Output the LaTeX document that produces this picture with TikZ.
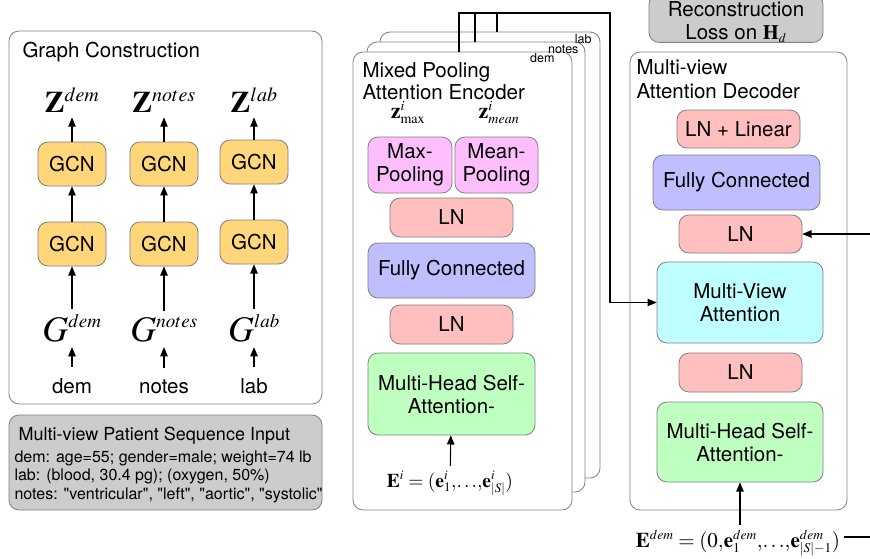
\documentclass[tikz,border=0pt]{standalone}
\usepackage{mathptmx}
\usepackage[no-math]{fontspec}
\setmainfont{TeX Gyre Heros}
\usepackage{tikz}
\usetikzlibrary{positioning}
\usetikzlibrary{shapes,arrows}
\DeclareMathSizes{30}{30}{20}{14}
\DeclareMathSizes{36}{36}{19}{14}
\DeclareMathSizes{22}{22}{14}{10}
\DeclareMathSizes{21}{21}{13.5}{10}
\DeclareMathSizes{19.5}{19.5}{13}{10}
\DeclareMathSizes{20.5}{20.5}{13}{10}
\definecolor{gcnfill}{RGB}{255,214,122}
\definecolor{lnfill}{RGB}{255,191,191}
\definecolor{fcfill}{RGB}{191,191,255}
\definecolor{poolfill}{RGB}{255,191,255}
\definecolor{attfill}{RGB}{191,255,191}
\definecolor{mvafill}{RGB}{191,255,255}
\definecolor{grayfill}{RGB}{204,204,204}
\definecolor{edge}{RGB}{128,128,128}
\newcommand{\txtbig}{\fontsize{20.5}{23}\selectfont}
\newcommand{\txtmid}{\fontsize{18}{21}\selectfont}
\newcommand{\txtsmall}{\fontsize{16}{18.5}\selectfont}
\newcommand{\txttiny}{\fontsize{12.5}{14}\selectfont}
\tikzset{%
  frame/.style    = {draw=edge, line width=0.8pt, rounded corners=10pt, fill=white,
    inner sep=0pt},
  box/.style      = {draw=edge, line width=0.8pt, rounded corners=10pt, inner sep=0pt,
    align=center, font=\txtbig},
  gcn/.style      = {box, fill=gcnfill, minimum width=68pt, minimum height=44pt}, % GCN layer
  ln/.style       = {box, fill=lnfill, minimum width=123pt, minimum height=38pt},
  fc/.style       = {box, fill=fcfill, minimum width=167pt, minimum height=55pt},
  pool/.style     = {box, fill=poolfill, minimum width=84pt, minimum height=56pt},
  mhsa/.style     = {box, fill=attfill, minimum width=167pt, minimum height=81pt},
  heading/.style  = {inner sep=0pt, align=left, font=\txtbig},
  word/.style     = {inner sep=5pt, font=\txtbig},
  mathlbl/.style  = {inner sep=5pt}
}

\begin{document}
\begin{tikzpicture}[x=1pt, y=-1pt, line width=1.1pt, >=triangle 45]
  \useasboundingbox (0,0) rectangle (870,558);
  \clip (0,0) rectangle (870,558);

  % graph construction
  \draw node at (165.5,217.5) [frame, minimum width=313pt, minimum height=373pt] (gc) {};
  \draw node at (22,57) [heading, anchor=base west] (gctitle) {Graph Construction};

  \draw node at (72,112) [mathlbl, anchor=base, font=\fontsize{30}{34}\selectfont] (zdem) {$\mathbf{Z}^{dem}$};
  \draw node at (164,112) [mathlbl, anchor=base, font=\fontsize{30}{34}\selectfont] (znotes) {$\mathbf{Z}^{notes}$};
  \draw node at (254,112) [mathlbl, anchor=base, font=\fontsize{30}{34}\selectfont] (zlab) {$\mathbf{Z}^{lab}$};

  \draw node at (72,164) [gcn] (gcntwodem) {GCN};
  \draw node at (164,164) [gcn] (gcntwonotes) {GCN};
  \draw node at (254,162) [gcn] (gcntwolab) {GCN};
  \draw node at (72,244) [gcn] (gcnonedem) {GCN};
  \draw node at (164,244) [gcn] (gcnonenotes) {GCN};
  \draw node at (254,242) [gcn] (gcnonelab) {GCN};

  \draw node at (72,341) [mathlbl, anchor=base, font=\fontsize{36}{40}\selectfont] (gdem) {$G^{dem}$};
  \draw node at (164,341) [mathlbl, anchor=base, font=\fontsize{36}{40}\selectfont] (gnotes) {$G^{notes}$};
  \draw node at (254,341) [mathlbl, anchor=base, font=\fontsize{36}{40}\selectfont] (glab) {$G^{lab}$};

  \draw node at (72,393) [word, anchor=base] (dem) {dem};
  \draw node at (164,393) [word, anchor=base] (notes) {notes};
  \draw node at (254,393) [word, anchor=base] (lab) {lab};

  \draw[->, shorten <=6pt] (dem) -- (gdem);
  \draw[->, shorten <=6pt] (notes) -- (gnotes);
  \draw[->, shorten <=6pt] (lab) -- (glab);
  \draw[->] (gdem) -- (gcnonedem);
  \draw[->] (gnotes) -- (gcnonenotes);
  \draw[->] (glab) -- (gcnonelab);
  \draw[->] (gcnonedem) -- (gcntwodem);
  \draw[->] (gcnonenotes) -- (gcntwonotes);
  \draw[->] (gcnonelab) -- (gcntwolab);
  \draw[->] (gcntwodem) -- (zdem);
  \draw[->] (gcntwonotes) -- (znotes);
  \draw[->] (gcntwolab) -- (zlab);

  % patient input
  \draw node at (165.5,462.5) [frame, fill=grayfill, minimum width=313pt, minimum height=95pt] (ps) {};
  \draw node at (18,440) [heading, anchor=base west, font=\txtmid] (pstitle) {Multi-view Patient Sequence Input};
  \draw node at (14,499) [heading, anchor=base west, font=\txtsmall] (psbody)
    {dem: age=55; gender=male; weight=74 lb\\
     lab: (blood, 30.4 pg); (oxygen, 50\%)\\
     notes: \textquotedbl ventricular\textquotedbl, \textquotedbl left\textquotedbl,
     \textquotedbl aortic\textquotedbl, \textquotedbl systolic\textquotedbl};

  % encoder cards
  \draw node at (490,255) [frame, minimum width=220pt, minimum height=446pt] (enclab) {};
  \draw node at (476,267) [frame, minimum width=218pt, minimum height=450pt] (encnotes) {};
  \draw node at (462.5,281) [frame, minimum width=219pt, minimum height=458pt] (encdem) {};
  \draw node at (592,43) [heading, anchor=base east, font=\txttiny] (cardlab) {lab};
  \draw node at (579,53) [heading, anchor=base east, font=\txttiny] (cardnotes) {notes};
  \draw node at (555,62) [heading, anchor=base east, font=\txttiny] (carddem) {dem};

  \draw node at (362,99) [heading, anchor=base west] (enctitle) {Mixed Pooling\\[-1pt]Attention Encoder};
  \draw node at (408,118) [mathlbl, anchor=base, font=\fontsize{22}{26}\selectfont] (zmax) {$\mathbf{z}^{i}_{\max}$};
  \draw node at (499,118) [mathlbl, anchor=base, font=\fontsize{22}{26}\selectfont] (zmean) {$\mathbf{z}^{i}_{mean}$};
  \draw node at (410,165) [pool] (maxpool) {Max-\\Pooling};
  \draw node at (496.5,165) [pool, minimum width=83pt] (meanpool) {Mean-\\Pooling};
  \draw node at (451.5,217.5) [ln, minimum height=39pt] (enclnb) {LN};
  \draw node at (451.5,270.5) [fc] (encfc) {Fully Connected};
  \draw node at (451.5,324.5) [ln, minimum height=39pt] (enclna) {LN};
  \draw node at (451.5,394) [mhsa, minimum height=82pt] (encmhsa) {Multi-Head Self-\\Attention-};
  \draw node at (450,487) [mathlbl, anchor=base, font=\fontsize{19.5}{23}\selectfont] (ei)
    {$\mathbf{E}^{i}=(\mathbf{e}^{i}_{1}{,}{\ldots}{,}\mathbf{e}^{i}_{|S|})$};
  \draw[->] (ei) -- (encmhsa);

  % decoder
  \draw node at (736,18.5) [box, fill=grayfill, minimum width=174pt, minimum height=47pt] (loss)
    {\rule{0pt}{21.5pt}Reconstruction\\Loss on $\mathbf{H}_{d}$};
  \draw node at (738.5,281) [frame, minimum width=217pt, minimum height=458pt] (dec) {};
  \draw node at (636,98) [heading, anchor=base west] (dectitle) {Multi-view\\[1pt]Attention Decoder};
  \draw node at (738.5,129) [ln] (declin) {LN + Linear};
  \draw node at (736.5,182.5) [fc] (decfc) {Fully Connected};
  \draw node at (740.5,234) [ln] (declnb) {LN};
  \draw node at (740,302.5) [mhsa, fill=mvafill, minimum width=166pt] (mva) {Multi-View\\Attention};
  \draw node at (740.5,372.5) [ln, minimum height=39pt] (declna) {LN};
  \draw node at (740,442) [mhsa, minimum width=166pt, minimum height=80pt] (decmhsa) {Multi-Head Self-\\Attention-};
  \draw node at (738,547) [mathlbl, anchor=base, inner xsep=3pt, font=\fontsize{21}{25}\selectfont] (edem)
    {$\mathbf{E}^{dem}=(0{,}\mathbf{e}^{dem}_{1}{,}{\ldots}{,}\mathbf{e}^{dem}_{|S|-1})$};
  \draw[->] (edem.north -| decmhsa) -- (decmhsa);

  % encoder outputs to decoder
  \coordinate (tapdem) at (459,52);
  \coordinate (tapnotes) at (475,42);
  \coordinate (taplab) at (497,32);
  \coordinate (bus) at (610,13);
  \draw (tapnotes) -- (tapnotes |- bus);
  \draw (taplab) -- (taplab |- bus);
  \draw[->] (tapdem) |- (bus) |- (mva.west);

  \coordinate (looplo) at (880,537);
  \coordinate (loophi) at (880,234);
  \draw[->] (edem.east |- looplo) -- (looplo) -- (loophi) -- (declnb.east);

\end{tikzpicture}
\end{document}
